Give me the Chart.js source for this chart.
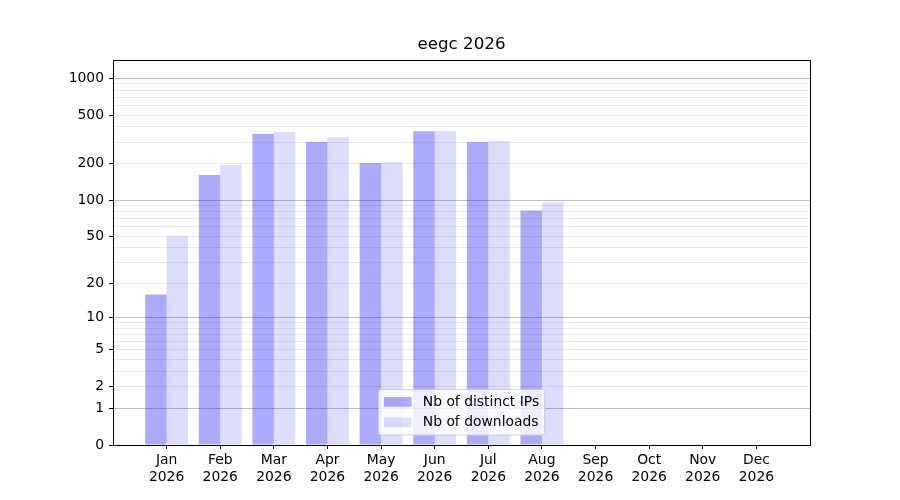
<!DOCTYPE html>
<html>
<head>
<meta charset="utf-8">
<script src="https://cdn.jsdelivr.net/npm/chart.js@4/dist/chart.umd.min.js"></script>
<style>
  html, body { margin: 0; padding: 0; background: #fff; }
  canvas { display: block; }
</style>
</head>
<body>
<canvas id="chart" width="900" height="500"></canvas>
<script>
const months = ["Jan", "Feb", "Mar", "Apr", "May", "Jun", "Jul", "Aug", "Sep", "Oct", "Nov", "Dec"];
const year = "2026";
const distinctIps = [16, 161, 350, 300, 202, 368, 300, 82, 0, 0, 0, 0];
const downloads = [50, 195, 363, 329, 205, 370, 305, 96, 0, 0, 0, 0];

// y axis: labelled ticks, darker grid lines, light grid lines
const yTickLabels = [0, 1, 2, 5, 10, 20, 50, 100, 200, 500, 1000];
const yGridMajor = [1, 10, 100, 1000];
const yGridMinor = [2, 3, 4, 5, 6, 7, 8, 9, 20, 30, 40, 50, 60, 70, 80, 90, 200, 300, 400, 500, 600, 700, 800, 900];
const yMax = 1410;

const FONT = '"DejaVu Sans", sans-serif';

// log10(1 + x) scale, like the reference
class Log1pScale extends Chart.LinearScale {
  static id = "log1p";
  static defaults = {};
  buildTicks() {
    const vals = [0, ...yGridMajor, ...yGridMinor].sort((a, b) => a - b);
    return vals.map((v) => ({ value: v }));
  }
  getPixelForValue(value) {
    const lo = Math.log10(1 + this.min);
    const hi = Math.log10(1 + this.max);
    return this.getPixelForDecimal((Math.log10(1 + value) - lo) / (hi - lo));
  }
  getValueForPixel(pixel) {
    const lo = Math.log10(1 + this.min);
    const hi = Math.log10(1 + this.max);
    return Math.pow(10, lo + this.getDecimalForPixel(pixel) * (hi - lo)) - 1;
  }
}
Chart.register(Log1pScale);

// centre the title over the plot area, not the whole canvas
const titleOverAxes = {
  id: "titleOverAxes",
  afterLayout(chart) {
    const t = chart.titleBlock;
    if (t) {
      t.left = chart.chartArea.left;
      t.right = chart.chartArea.right;
      t.width = t.right - t.left;
    }
  },
};

// box round the plot area (top and right sides)
const frame = {
  id: "frame",
  afterDatasetsDraw(chart) {
    const { ctx, chartArea: a } = chart;
    ctx.save();
    ctx.strokeStyle = "#000";
    ctx.lineWidth = 1;
    ctx.strokeRect(Math.round(a.left) + 0.5, Math.round(a.top) + 0.5,
      Math.round(a.right - a.left), Math.round(a.bottom - a.top));
    ctx.restore();
  },
};

// matplotlib-like legend, lower centre inside the axes
const legendBox = {
  id: "legendBox",
  afterDraw(chart) {
    const { ctx, chartArea: a } = chart;
    const fs = 13.9;
    const sets = chart.data.datasets;
    ctx.save();
    ctx.font = fs + "px " + FONT;
    const tw = Math.max(...sets.map((d) => ctx.measureText(d.label).width));
    const pad = 0.4 * fs, hl = 2 * fs, htp = 0.8 * fs, step = 1.48 * fs;
    const w = pad * 2 + hl + htp + tw;
    const h = pad * 2 + fs + (sets.length - 1) * step;
    const x = (a.left + a.right) / 2 - w / 2;
    const y = a.bottom - 10 - h;
    ctx.beginPath();
    ctx.roundRect(x, y, w, h, 3);
    ctx.fillStyle = "rgba(255,255,255,0.8)";
    ctx.fill();
    ctx.strokeStyle = "#cccccc";
    ctx.lineWidth = 1;
    ctx.stroke();
    sets.forEach((d, i) => {
      const cy = y + pad + fs / 2 + i * step;
      ctx.fillStyle = d.backgroundColor;
      ctx.fillRect(x + pad, cy - 0.35 * fs, hl, 0.7 * fs);
      ctx.fillStyle = "#000";
      ctx.textBaseline = "middle";
      ctx.textAlign = "left";
      ctx.fillText(d.label, x + pad + hl + htp, cy);
    });
    ctx.restore();
  },
};

new Chart(document.getElementById("chart"), {
  type: "bar",
  data: {
    datasets: [
      {
        label: "Nb of distinct IPs",
        data: distinctIps.map((v, i) => ({ x: i, y: v })),
        backgroundColor: "rgba(0,0,255,0.333)",
        borderWidth: 0,
        categoryPercentage: 0.8,
        barPercentage: 1.0,
      },
      {
        label: "Nb of downloads",
        data: downloads.map((v, i) => ({ x: i, y: v })),
        backgroundColor: "rgba(0,0,255,0.133)",
        borderWidth: 0,
        categoryPercentage: 0.8,
        barPercentage: 1.0,
      },
    ],
  },
  options: {
    responsive: false,
    animation: false,
    devicePixelRatio: 1,
    layout: { padding: { left: 0, right: 90, top: 0, bottom: 0 } },
    scales: {
      x: {
        type: "linear",
        min: -1,
        max: 12,
        offset: false,
        afterBuildTicks: (scale) => {
          scale.ticks = months.map((m, i) => ({ value: i }));
        },
        afterFit: (scale) => { scale.height = 55; },
        grid: { offset: false, drawOnChartArea: false, tickLength: 4, tickColor: "#000" },
        border: { color: "#000" },
        ticks: {
          color: "#000",
          padding: 3,
          maxRotation: 0,
          autoSkip: false,
          font: { family: FONT, size: 13.9 },
          callback: (v) => [months[v], year],
        },
      },
      y: {
        type: "log1p",
        min: 0,
        max: yMax,
        afterFit: (scale) => { scale.width = 113; },
        grid: {
          lineWidth: 1,
          tickLength: 4,
          color: (c) => (c.tick && yGridMajor.includes(c.tick.value) ? "#bfbfbf" : "#ebebeb"),
          tickColor: (c) => (c.tick && yTickLabels.includes(c.tick.value) ? "#000" : "rgba(0,0,0,0)"),
        },
        border: { color: "#000" },
        ticks: {
          color: "#000",
          padding: 5,
          autoSkip: false,
          font: { family: FONT, size: 13.9 },
          callback: (v) => (yTickLabels.includes(v) ? String(v) : ""),
        },
      },
    },
    plugins: {
      legend: { display: false },
      tooltip: { enabled: false },
      title: {
        display: true,
        text: "eegc " + year,
        color: "#000",
        font: { family: FONT, size: 16.7, weight: "normal" },
        padding: { top: 35, bottom: 5 },
      },
    },
  },
  plugins: [titleOverAxes, frame, legendBox],
});
</script>
</body>
</html>
